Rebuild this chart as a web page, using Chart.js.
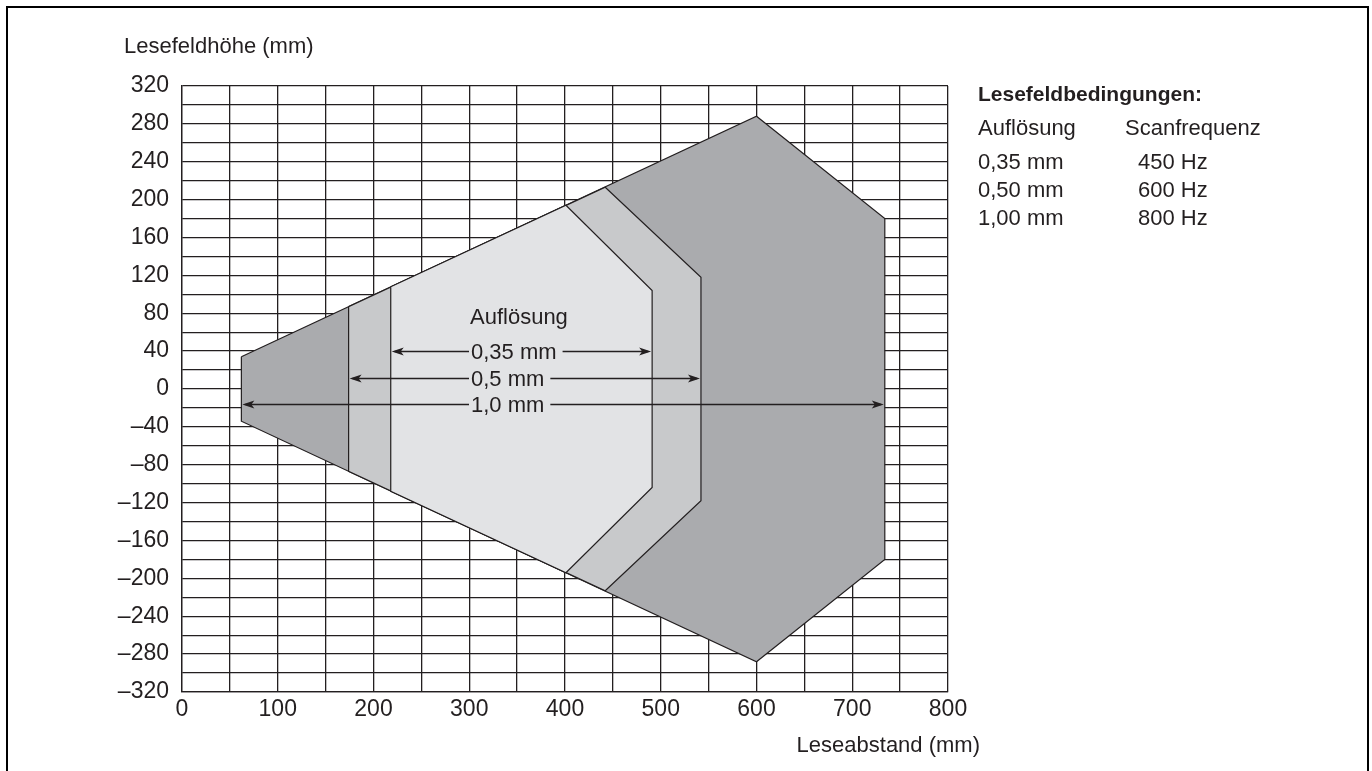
<!DOCTYPE html>
<html>
<head>
<meta charset="utf-8">
<script src="https://cdn.jsdelivr.net/npm/chart.js@4.4.0/dist/chart.umd.min.js"></script>
<style>
  html, body { margin:0; padding:0; background:#fff; }
  #wrap { width:1372px; height:771px; position:relative; }
</style>
</head>
<body>
<div id="wrap"><canvas id="c" width="1372" height="771"></canvas></div>
<script>
// reading field outlines, [distance, height] in mm
const field10 = [[62,34],[600,288],[734,180],[734,-180],[600,-288],[62,-34]];
const field05 = [[174,87],[442,213],[542,118],[542,-118],[442,-213],[174,-87]];
const field035 = [[218,108],[401,194],[491,104],[491,-104],[401,-194],[218,-108]];

// dimension arrows inside the field
const arrowLabels = ['0,35 mm', '0,5 mm', '1,0 mm'];
const arrowY = [40, 12, -16];
const arrowFrom = [218, 174, 62];
const arrowTo = [491, 542, 734];

// conditions table on the right
const condTitle = 'Lesefeldbedingungen:';
const condHead = ['Auflösung', 'Scanfrequenz'];
const condRes = ['0,35 mm', '0,50 mm', '1,00 mm'];
const condFreq = ['450 Hz', '600 Hz', '800 Hz'];

const FONT = '"Liberation Sans", Arial, sans-serif';
const ink = '#231f20';

function toPts(arr){ return arr.map(p => ({x:p[0], y:p[1]})).concat([{x:arr[0][0], y:arr[0][1]}]); }

function fieldDs(arr, col){
  return { data: toPts(arr), showLine:true, fill:'shape', backgroundColor:col,
           borderColor:ink, borderWidth:1.2, pointRadius:0, tension:0 };
}

function arrowHead(ctx, x, y, dir){
  ctx.beginPath();
  ctx.moveTo(x, y);
  ctx.lineTo(x - dir*12, y - 4);
  ctx.lineTo(x - dir*9, y);
  ctx.lineTo(x - dir*12, y + 4);
  ctx.closePath();
  ctx.fill();
}

const extras = {
  id: 'extras',
  beforeDraw(chart){
    const ctx = chart.ctx;
    ctx.save();
    ctx.strokeStyle = '#000';
    ctx.lineWidth = 2;
    ctx.beginPath();
    ctx.moveTo(7, 780); ctx.lineTo(7, 7); ctx.lineTo(1368, 7); ctx.lineTo(1368, 780);
    ctx.stroke();
    ctx.restore();
  },
  afterDatasetsDraw(chart){
    const ctx = chart.ctx, xs = chart.scales.x, ys = chart.scales.y;
    ctx.save();
    ctx.fillStyle = ink; ctx.strokeStyle = ink; ctx.lineWidth = 1.3;
    ctx.font = '22px ' + FONT;
    ctx.textBaseline = 'middle';
    ctx.textAlign = 'left';
    ctx.fillText('Auflösung', 470, 318);
    arrowLabels.forEach((lab, i) => {
      const y = Math.round(ys.getPixelForValue(arrowY[i])) + 0.5;
      const x0 = xs.getPixelForValue(arrowFrom[i]);
      const x1 = xs.getPixelForValue(arrowTo[i]);
      const tx = 471, tw = ctx.measureText(lab).width;
      ctx.beginPath();
      ctx.moveTo(x0 + 4, y); ctx.lineTo(tx - 2, y);
      ctx.moveTo(tx + tw + 6, y); ctx.lineTo(x1 - 4, y);
      ctx.stroke();
      arrowHead(ctx, x0 + 1, y, -1);
      arrowHead(ctx, x1 - 1, y, 1);
      ctx.fillText(lab, tx, y + 1);
    });
    ctx.restore();
  },
  afterDraw(chart){
    const ctx = chart.ctx;
    ctx.save();
    ctx.fillStyle = ink;
    ctx.textBaseline = 'middle';
    ctx.font = '22px ' + FONT;
    ctx.textAlign = 'left';
    ctx.fillText('Lesefeldhöhe (mm)', 124, 47);
    ctx.textAlign = 'right';
    ctx.fillText('Leseabstand (mm)', 980, 746);
    ctx.textAlign = 'left';
    ctx.font = 'bold 21px ' + FONT;
    ctx.fillText(condTitle, 978, 95);
    ctx.font = '22px ' + FONT;
    ctx.fillText(condHead[0], 978, 129);
    ctx.fillText(condHead[1], 1125, 129);
    condRes.forEach((r, i) => {
      const y = 163 + i * 28;
      ctx.fillText(r, 978, y);
      ctx.fillText(condFreq[i], 1138, y);
    });
    ctx.restore();
  }
};

new Chart(document.getElementById('c'), {
  type: 'scatter',
  plugins: [extras],
  data: { datasets: [
    // first dataset is painted last, so innermost field goes first
    fieldDs(field035, '#e2e3e5'),
    fieldDs(field05, '#c8c9cb'),
    fieldDs(field10, '#aaabae')
  ]},
  options: {
    responsive: false,
    animation: false,
    layout: { padding: { left: 0, top: 86, right: 424, bottom: 0 } },
    plugins: { legend: {display:false}, tooltip: {enabled:false} },
    scales: {
      x: {
        min: 0, max: 800,
        afterFit: s => { s.height = 79; },
        border: { color: ink, width: 1.3 },
        grid: { color: ink, lineWidth: 1.3, drawTicks: false },
        ticks: { stepSize: 50, autoSkip: false, maxRotation: 0, padding: 4, color: ink,
                 font: { family: FONT, size: 23 },
                 callback: v => v % 100 === 0 ? String(v) : '' }
      },
      y: {
        min: -320, max: 320,
        afterFit: s => { s.width = 182; },
        border: { color: ink, width: 1.3 },
        grid: { color: ink, lineWidth: 1.3, drawTicks: false },
        ticks: { stepSize: 20, autoSkip: false, padding: 13, color: ink,
                 font: { family: FONT, size: 23 },
                 callback: v => v % 40 === 0 ? (v < 0 ? '\u2013' + Math.abs(v) : String(v)) : '' }
      }
    }
  }
});
</script>
</body>
</html>
